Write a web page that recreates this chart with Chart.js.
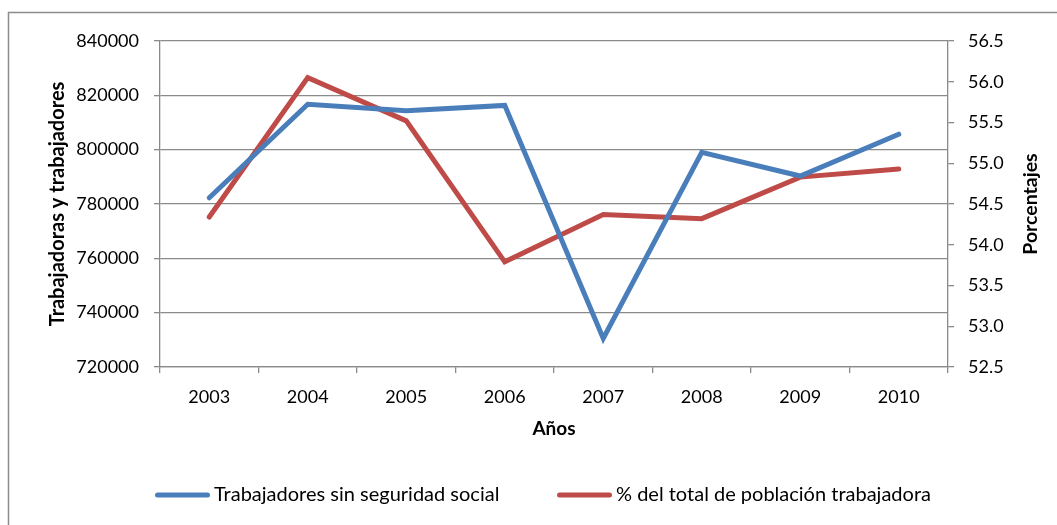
<!DOCTYPE html>
<html>
<head>
<meta charset="utf-8">
<script src="https://cdn.jsdelivr.net/npm/chart.js@4"></script>
<style>
  html,body{margin:0;padding:0;background:#fff;}
  #wrap{width:1057px;height:525px;}
</style>
</head>
<body>
<div id="wrap"><canvas id="c" width="1057" height="525"></canvas></div>
<script>
const years = ['2003','2004','2005','2006','2007','2008','2009','2010'];
const trabajadores = [782300, 816700, 814300, 816300, 730500, 799000, 790300, 805700];
const porcentajes = [54.34, 56.05, 55.52, 53.79, 54.37, 54.32, 54.83, 54.93];
const leftTicks = {min: 720000, max: 840000, step: 20000};
const rightTicks = {min: 52.5, max: 56.5, step: 0.5};
const labelA = 'Trabajadores sin seguridad social';
const labelB = '% del total de población trabajadora';
const xTitle = 'Años';
const yTitle = 'Trabajadoras y trabajadores';
const y1Title = 'Porcentajes';

const FONT = 'Lato';
const FS = 18;
const GRID = '#8a8a8a';
const BLUE = '#4A7EBB';
const RED = '#BE4B48';

const decor = {
  id: 'decor',
  beforeDraw(chart) {
    const ctx = chart.ctx;
    ctx.save();
    ctx.fillStyle = '#fff';
    ctx.fillRect(0, 0, chart.width, chart.height);
    ctx.strokeStyle = '#8c8c8c';
    ctx.lineWidth = 1.5;
    ctx.beginPath();
    ctx.moveTo(8.5, chart.height + 2);
    ctx.lineTo(8.5, 12.5);
    ctx.lineTo(chart.width + 2, 12.5);
    ctx.stroke();
    ctx.restore();
  },
  afterDraw(chart) {
    const ctx = chart.ctx;
    const a = chart.chartArea;
    const cy = (a.top + a.bottom) / 2;
    ctx.save();
    ctx.fillStyle = '#000';
    ctx.textAlign = 'center';
    ctx.textBaseline = 'middle';
    ctx.font = 'bold 19px ' + FONT;
    ctx.fillText(xTitle, (a.left + a.right) / 2, 429);
    ctx.save();
    ctx.font = 'bold 20px ' + FONT;
    ctx.translate(58, cy);
    ctx.rotate(-Math.PI / 2);
    ctx.fillText(yTitle, 0, 0);
    ctx.restore();
    ctx.save();
    ctx.font = 'bold 19.5px ' + FONT;
    ctx.translate(1031, cy);
    ctx.rotate(-Math.PI / 2);
    ctx.fillText(y1Title, 0, 0);
    ctx.restore();
    // legend
    const items = chart.data.datasets.map(d => ({label: d.label, color: d.borderColor}));
    const starts = [155, 557];
    ctx.font = '20px ' + FONT;
    ctx.textAlign = 'left';
    items.forEach((it, i) => {
      const x = starts[i];
      const y = 495;
      ctx.strokeStyle = it.color;
      ctx.lineWidth = 5;
      ctx.lineCap = 'round';
      ctx.beginPath();
      ctx.moveTo(x + 2.5, y);
      ctx.lineTo(x + 52.5, y);
      ctx.stroke();
      ctx.fillStyle = '#000';
      ctx.fillText(it.label, x + 59, y);
    });
    ctx.restore();
  }
};

new Chart(document.getElementById('c'), {
  type: 'line',
  data: {
    labels: years,
    datasets: [
      {label: labelA, data: trabajadores, yAxisID: 'y', borderColor: BLUE, backgroundColor: BLUE,
       borderWidth: 5, pointRadius: 0, tension: 0, borderCapStyle: 'round', borderJoinStyle: 'miter'},
      {label: labelB, data: porcentajes, yAxisID: 'y1', borderColor: RED, backgroundColor: RED,
       borderWidth: 5, pointRadius: 0, tension: 0, borderCapStyle: 'round', borderJoinStyle: 'miter'}
    ]
  },
  options: {
    responsive: false,
    animation: false,
    devicePixelRatio: 1,
    layout: {padding: {left: 0, right: 0, top: 41, bottom: 0}},
    plugins: {legend: {display: false}, tooltip: {enabled: false}, title: {display: false}},
    scales: {
      x: {
        offset: true,
        afterFit(s) { s.height = 158; },
        grid: {offset: true, drawOnChartArea: false, drawTicks: true, tickLength: 6, color: GRID, lineWidth: 1.3},
        border: {display: true, color: GRID, width: 1.3},
        ticks: {color: '#000', font: {family: FONT, size: FS}, padding: 13, maxRotation: 0, autoSkip: false}
      },
      y: {
        position: 'left',
        min: leftTicks.min, max: leftTicks.max,
        afterFit(s) { s.width = 160; },
        grid: {drawOnChartArea: true, drawTicks: true, tickLength: 6, color: GRID, lineWidth: 1.3},
        border: {display: true, color: GRID, width: 1.3},
        ticks: {stepSize: leftTicks.step, color: '#000', font: {family: FONT, size: FS}, padding: 15,
                callback: v => String(v)}
      },
      y1: {
        position: 'right',
        min: rightTicks.min, max: rightTicks.max,
        afterFit(s) { s.width = 109; },
        grid: {drawOnChartArea: false, drawTicks: true, tickLength: 6, color: GRID, lineWidth: 1.3},
        border: {display: true, color: GRID, width: 1.3},
        ticks: {stepSize: rightTicks.step, color: '#000', font: {family: FONT, size: FS}, padding: 14,
                callback: v => Number(v).toFixed(1)}
      }
    }
  },
  plugins: [decor]
});
</script>
</body>
</html>
